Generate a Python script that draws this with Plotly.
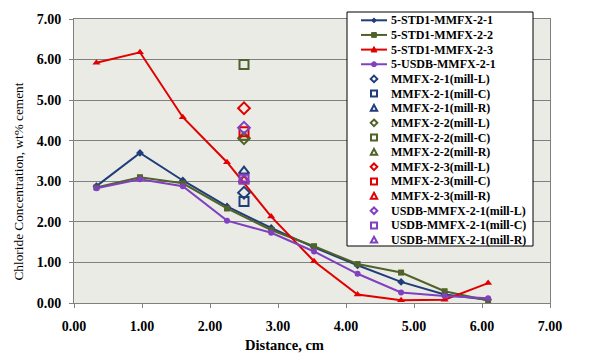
import plotly.graph_objects as go

distance = [0.33, 0.97, 1.60, 2.25, 2.90, 3.53, 4.17, 4.81, 5.45, 6.09]
std1_mmfx_2_1 = [2.88, 3.70, 3.02, 2.38, 1.85, 1.37, 0.93, 0.52, 0.21, 0.08]
std1_mmfx_2_2 = [2.85, 3.10, 2.95, 2.33, 1.80, 1.40, 0.96, 0.75, 0.29, 0.06]
std1_mmfx_2_3 = [5.92, 6.18, 4.58, 3.47, 2.13, 1.03, 0.21, 0.07, 0.08, 0.49]
usdb_mmfx_2_1 = [2.83, 3.05, 2.88, 2.03, 1.73, 1.27, 0.72, 0.26, 0.17, 0.12]

mill_x = [2.5]
mill_names = ["MMFX-2-1(mill-L)", "MMFX-2-1(mill-C)", "MMFX-2-1(mill-R)",
              "MMFX-2-2(mill-L)", "MMFX-2-2(mill-C)", "MMFX-2-2(mill-R)",
              "MMFX-2-3(mill-L)", "MMFX-2-3(mill-C)", "MMFX-2-3(mill-R)",
              "USDB-MMFX-2-1(mill-L)", "USDB-MMFX-2-1(mill-C)", "USDB-MMFX-2-1(mill-R)"]
mill_values = [2.72, 2.50, 3.25,
               4.06, 5.88, 4.08,
               4.80, 4.22, 3.02,
               4.32, 3.05, 3.05]

x_title = "Distance, cm"
y_title = "Chloride Concentration, wt% cement"

BLUE = "#1F3D7A"
GREEN = "#4F6228"
RED = "#E00000"
PURPLE = "#8040C0"
FONT = "Liberation Serif"

# figure geometry (pixels)
W, H = 596, 353
ML, MR, MT, MB = 74, 46, 19, 50
PW, PH = W - ML - MR, H - MT - MB


def px(xp):
    return (xp - ML) / PW


def py(yp):
    return (H - MB - yp) / PH


fig = go.Figure()
line_series = [
    ("5-STD1-MMFX-2-1", std1_mmfx_2_1, BLUE, "diamond", 6, 2.2),
    ("5-STD1-MMFX-2-2", std1_mmfx_2_2, GREEN, "square", 6, 2.4),
    ("5-STD1-MMFX-2-3", std1_mmfx_2_3, RED, "triangle-up", 7, 2.8),
    ("5-USDB-MMFX-2-1", usdb_mmfx_2_1, PURPLE, "circle", 6, 2.5),
]
for name, ys, col, sym, sz, _ in line_series:
    fig.add_trace(go.Scatter(x=distance, y=ys, name=name, mode="lines+markers",
                             line=dict(color=col, width=2), showlegend=False,
                             marker=dict(symbol=sym, size=sz, color=col)))

group_colors = {"MMFX-2-1": BLUE, "MMFX-2-2": GREEN, "MMFX-2-3": RED, "USDB-MMFX-2-1": PURPLE}
open_syms = {"L": "diamond-open", "C": "square-open", "R": "triangle-up-open"}
for name, v in zip(mill_names, mill_values):
    base = name.split("(")[0]
    pos = name.split("-")[-1][0]
    fig.add_trace(go.Scatter(x=mill_x, y=[v], name=name, mode="markers", showlegend=False,
                             marker=dict(symbol=open_syms[pos], size=9, color=group_colors[base],
                                         line=dict(color=group_colors[base], width=2))))

# ---- custom legend (compact, like the reference) ----
shapes = []
annotations = []
box_l, box_r, box_t, box_b = 347, 533, 12, 246
shapes.append(dict(type="rect", xref="paper", yref="paper", layer="above",
                    x0=px(box_l), x1=px(box_r), y0=py(box_b), y1=py(box_t),
                    fillcolor="white", line=dict(color="black", width=1)))

row0, dy = 20.3, 14.65
sym_x, seg_x0, seg_x1, text_x = 374, 361, 387, 389


def marker_shape(kind, cx, cy, col, filled, r):
    lw = 1 if filled else 2
    fill = col if filled else "rgba(0,0,0,0)"
    if kind == "circle":
        return dict(type="circle", xref="paper", yref="paper", layer="above",
                    x0=px(cx - r), x1=px(cx + r), y0=py(cy + r), y1=py(cy - r),
                    fillcolor=fill, line=dict(color=col, width=lw))
    if kind == "square":
        pts = [(cx - r, cy - r), (cx + r, cy - r), (cx + r, cy + r), (cx - r, cy + r)]
    elif kind == "diamond":
        pts = [(cx, cy - r * 1.1), (cx + r * 1.1, cy), (cx, cy + r * 1.1), (cx - r * 1.1, cy)]
    else:
        pts = [(cx, cy - r * 1.1), (cx + r * 1.05, cy + r * 0.85), (cx - r * 1.05, cy + r * 0.85)]
    path = "M " + " L ".join(f"{px(a):.5f},{py(b):.5f}" for a, b in pts) + " Z"
    return dict(type="path", xref="paper", yref="paper", layer="above", path=path,
                fillcolor=fill, line=dict(color=col, width=lw))


kind_of = {"diamond": "diamond", "square": "square", "triangle-up": "triangle", "circle": "circle"}
entries = []
for name, ys, col, sym, sz, lr in line_series:
    entries.append((name, col, kind_of[sym], True, lr))
pos_kind = {"L": "diamond", "C": "square", "R": "triangle"}
for name in mill_names:
    base = name.split("(")[0]
    entries.append((name, group_colors[base], pos_kind[name.split("-")[-1][0]], False, 3.0))

for i, (name, col, kind, is_line, r) in enumerate(entries):
    cy = row0 + i * dy
    if is_line:
        shapes.append(dict(type="line", xref="paper", yref="paper", layer="above",
                           x0=px(seg_x0), x1=px(seg_x1), y0=py(cy), y1=py(cy),
                           line=dict(color=col, width=2)))
        shapes.append(marker_shape(kind, sym_x, cy, col, True, r))
    else:
        shapes.append(marker_shape(kind, sym_x, cy, col, False, r))
    annotations.append(dict(text=name, xref="paper", yref="paper", x=px(text_x), y=py(cy),
                            xanchor="left", yanchor="middle", showarrow=False,
                            font=dict(family=FONT, size=12, color="black", weight="bold")))

# axis titles (positioned as in the reference)
annotations.append(dict(text=x_title, xref="paper", yref="paper", x=px(284), y=py(345),
                        xanchor="center", yanchor="middle", showarrow=False,
                        font=dict(family=FONT, size=14.5, color="black", weight="bold")))
annotations.append(dict(text=y_title, xref="paper", yref="paper", x=px(17.5), y=py(182),
                        xanchor="center", yanchor="middle", showarrow=False, textangle=-90,
                        font=dict(family=FONT, size=13.3, color="black")))

fig.update_layout(
    width=W, height=H,
    margin=dict(l=ML, r=MR, t=MT, b=MB),
    paper_bgcolor="white",
    plot_bgcolor="#EBEBE6",
    font=dict(family=FONT, size=12, color="black"),
    showlegend=False,
    shapes=shapes,
    annotations=annotations,
)
fig.update_xaxes(range=[0, 7], dtick=1, tickformat=".2f", showgrid=False, automargin=False,
                 showline=True, linecolor="#808080", mirror=True, ticks="outside",
                 ticklen=4, tickcolor="#808080", zeroline=False, ticklabelstandoff=6,
                 tickfont=dict(family=FONT, size=14, weight="bold"))
fig.update_yaxes(range=[0, 7], dtick=1, tickformat=".2f", showgrid=True, gridcolor="#808080",
                 gridwidth=1, showline=True, linecolor="#808080", mirror=True, ticks="outside",
                 ticklen=4, tickcolor="#808080", zeroline=False, ticklabelstandoff=5,
                 automargin=False,
                 tickfont=dict(family=FONT, size=14, weight="bold"))

fig.write_html("out.html")
